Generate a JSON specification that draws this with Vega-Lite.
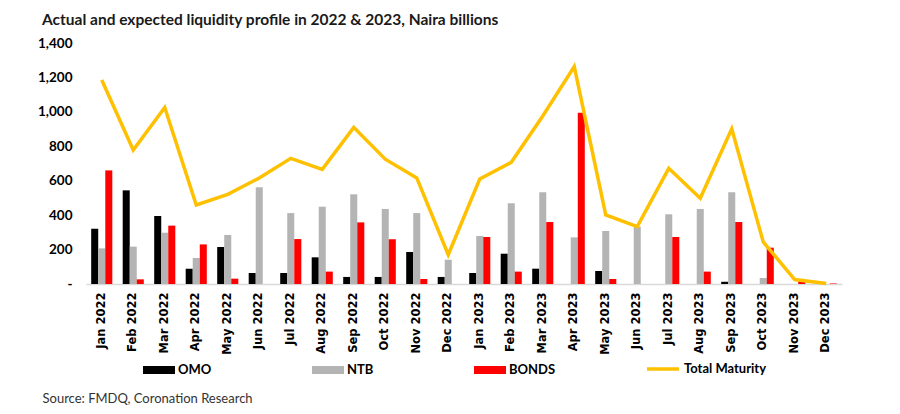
{
  "$schema": "https://vega.github.io/schema/vega-lite/v6.json",
  "width": 756,
  "height": 241,
  "autosize": {"type": "none"},
  "padding": {"left": 86, "top": 43, "right": 58, "bottom": 130},
  "background": "white",
  "config": {
    "view": {"stroke": null},
    "font": "Lato",
    "axisY": {
      "title": null,
      "values": [0, 200, 400, 600, 800, 1000, 1200, 1400],
      "labelExpr": "datum.value == 0 ? '-' : format(datum.value, ',')",
      "labelOverlap": false,
      "grid": false,
      "domain": false,
      "ticks": false,
      "labelFont": "Lato",
      "labelFontWeight": "bold",
      "labelFontSize": 13.5,
      "labelColor": "#000000",
      "labelPadding": 14
    }
  },
  "title": {
    "text": "Actual and expected liquidity profile in 2022 & 2023, Naira billions",
    "anchor": "start",
    "frame": "group",
    "dx": -44,
    "dy": 3,
    "offset": 11,
    "font": "Lato",
    "fontSize": 15.5,
    "fontWeight": "bold",
    "color": "#1a1a1a"
  },
  "data": {
    "values": [
      {"month": "Jan 2022", "OMO": 321, "NTB": 207, "BONDS": 660, "Total": 1185},
      {"month": "Feb 2022", "OMO": 544, "NTB": 217, "BONDS": 27, "Total": 778},
      {"month": "Mar 2022", "OMO": 395, "NTB": 298, "BONDS": 339, "Total": 1025},
      {"month": "Apr 2022", "OMO": 89, "NTB": 151, "BONDS": 230, "Total": 459},
      {"month": "May 2022", "OMO": 215, "NTB": 285, "BONDS": 31, "Total": 521},
      {"month": "Jun 2022", "OMO": 64, "NTB": 562, "BONDS": 0, "Total": 616},
      {"month": "Jul 2022", "OMO": 64, "NTB": 412, "BONDS": 261, "Total": 730},
      {"month": "Aug 2022", "OMO": 155, "NTB": 449, "BONDS": 72, "Total": 666},
      {"month": "Sep 2022", "OMO": 41, "NTB": 521, "BONDS": 358, "Total": 910},
      {"month": "Oct 2022", "OMO": 41, "NTB": 436, "BONDS": 260, "Total": 725},
      {"month": "Nov 2022", "OMO": 186, "NTB": 412, "BONDS": 29, "Total": 616},
      {"month": "Dec 2022", "OMO": 41, "NTB": 141, "BONDS": 0, "Total": 170},
      {"month": "Jan 2023", "OMO": 64, "NTB": 279, "BONDS": 273, "Total": 610},
      {"month": "Feb 2023", "OMO": 176, "NTB": 469, "BONDS": 72, "Total": 707},
      {"month": "Mar 2023", "OMO": 89, "NTB": 533, "BONDS": 360, "Total": 976},
      {"month": "Apr 2023", "OMO": 0, "NTB": 271, "BONDS": 995, "Total": 1263},
      {"month": "May 2023", "OMO": 75, "NTB": 308, "BONDS": 29, "Total": 401},
      {"month": "Jun 2023", "OMO": 0, "NTB": 333, "BONDS": 0, "Total": 333},
      {"month": "Jul 2023", "OMO": 0, "NTB": 405, "BONDS": 273, "Total": 672},
      {"month": "Aug 2023", "OMO": 0, "NTB": 436, "BONDS": 72, "Total": 498},
      {"month": "Sep 2023", "OMO": 13, "NTB": 533, "BONDS": 360, "Total": 901},
      {"month": "Oct 2023", "OMO": 0, "NTB": 35, "BONDS": 211, "Total": 244},
      {"month": "Nov 2023", "OMO": 0, "NTB": 0, "BONDS": 22, "Total": 26},
      {"month": "Dec 2023", "OMO": 0, "NTB": 0, "BONDS": 3, "Total": 3}
    ]
  },
  "encoding": {
    "x": {
      "field": "month",
      "type": "nominal",
      "sort": null,
      "scale": {"paddingInner": 0.33, "paddingOuter": 0.165},
      "axis": {
        "title": "Source: FMDQ, Coronation Research",
        "titleAnchor": "start",
        "titleAlign": "left",
        "titleBaseline": "alphabetic",
        "titleX": -44,
        "titleY": 118,
        "titleFont": "Lato",
        "titleFontSize": 13,
        "titleFontWeight": "normal",
        "titleColor": "#333333",
        "labelAngle": -90,
        "labelAlign": "right",
        "labelBaseline": "middle",
        "labelFont": "DejaVu Sans",
        "labelFontWeight": "bold",
        "labelFontSize": 11.5,
        "labelColor": "#000000",
        "labelPadding": 8,
        "ticks": false,
        "domainColor": "#d9d9d9",
        "domainWidth": 1.5
      }
    }
  },
  "layer": [
    {
      "transform": [
        {"fold": ["OMO", "NTB", "BONDS"], "as": ["series", "value"]}
      ],
      "mark": {"type": "bar"},
      "encoding": {
        "xOffset": {
          "field": "series",
          "type": "nominal",
          "sort": ["OMO", "NTB", "BONDS"],
          "scale": {"paddingInner": 0, "paddingOuter": 0}
        },
        "y": {
          "field": "value",
          "type": "quantitative",
          "scale": {"domain": [0, 1400], "nice": false}
        },
        "color": {
          "field": "series",
          "type": "nominal",
          "scale": {
            "domain": ["OMO", "NTB", "BONDS"],
            "range": ["#000000", "#b4b4b4", "#ff0000"]
          },
          "legend": {
            "title": null,
            "orient": "none",
            "direction": "horizontal",
            "legendX": 57,
            "legendY": 311,
            "columnPadding": 100,
            "gridAlign": "none",
            "symbolType": "M-1,-0.25H1V0.25H-1Z",
            "symbolSize": 1024,
            "symbolStrokeWidth": 0,
            "symbolOpacity": 1,
            "labelOffset": 3,
            "labelFont": "Lato",
            "labelFontWeight": "bold",
            "labelFontSize": 13,
            "labelColor": "#000000"
          }
        }
      }
    },
    {
      "mark": {"type": "line", "strokeWidth": 3.5, "strokeJoin": "miter"},
      "encoding": {
        "y": {"field": "Total", "type": "quantitative"},
        "stroke": {
          "datum": "Total Maturity",
          "type": "nominal",
          "scale": {"domain": ["Total Maturity"], "range": ["#ffc000"]},
          "legend": {
            "title": null,
            "orient": "none",
            "direction": "horizontal",
            "legendX": 559,
            "legendY": 308,
            "symbolType": "M-1,0H1",
            "symbolSize": 1024,
            "symbolStrokeWidth": 3.5,
            "labelOffset": 3,
            "labelFont": "Lato",
            "labelFontWeight": "bold",
            "labelFontSize": 13,
            "labelColor": "#000000"
          }
        }
      }
    }
  ]
}
